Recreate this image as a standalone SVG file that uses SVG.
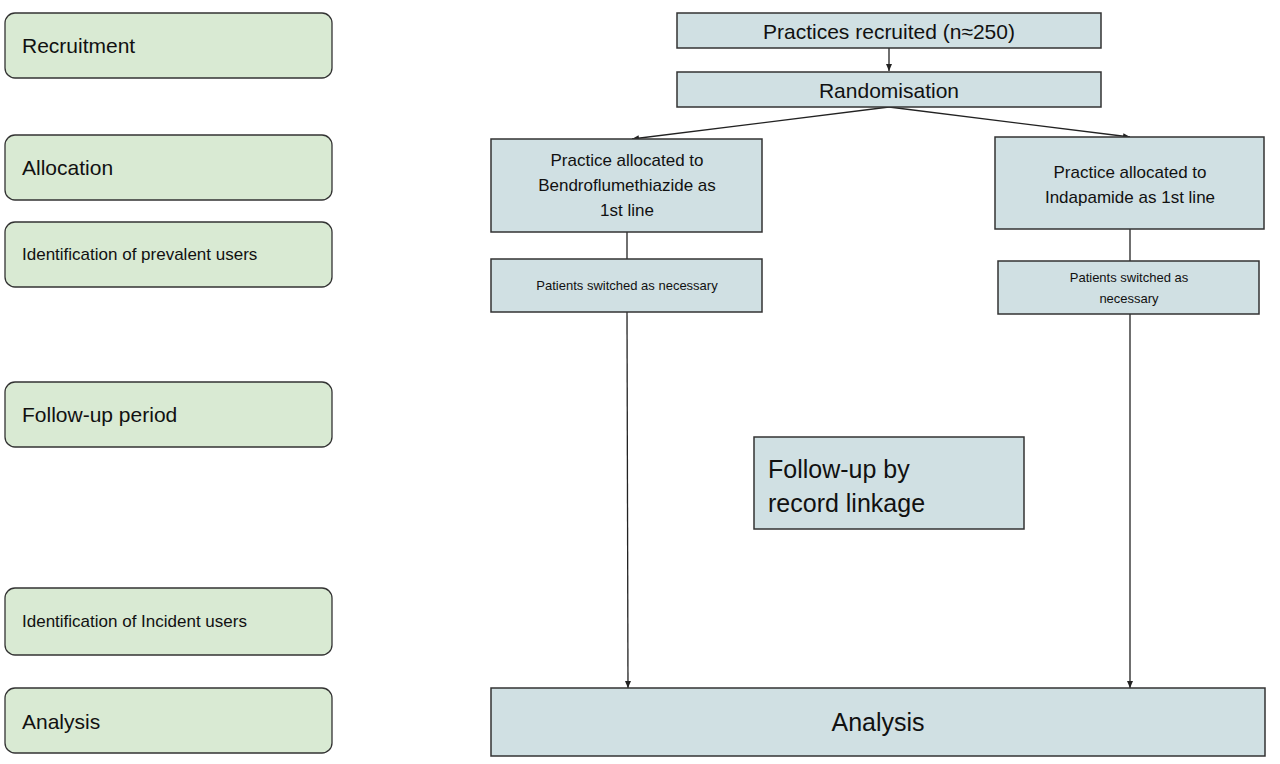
<svg xmlns="http://www.w3.org/2000/svg" width="1280" height="764" viewBox="0 0 1280 764">
<style>
.g{fill:#d9ead3;stroke:#333;stroke-width:1.3}
.b{fill:#d0e0e3;stroke:#333;stroke-width:1.5}
text{font-family:"Liberation Sans",Arial,sans-serif;fill:#111}
.c{stroke:#222;stroke-width:1.3;fill:none}
</style>
<defs><marker id="a" markerWidth="8" markerHeight="8" refX="7" refY="4" orient="auto" markerUnits="userSpaceOnUse"><path d="M0,1 L7,4 L0,7 z" fill="#222"/></marker></defs>
<rect width="1280" height="764" fill="#fff"/>
<g id="l1"><rect class="g" x="5" y="13" width="327" height="65" rx="10"/><text x="22" y="53" font-size="21">Recruitment</text></g>
<g id="l2"><rect class="g" x="5" y="135" width="327" height="65" rx="10"/><text x="22" y="175" font-size="21">Allocation</text></g>
<g id="l3"><rect class="g" x="5" y="222" width="327" height="65" rx="10"/><text x="22" y="260" font-size="17">Identification of prevalent users</text></g>
<g id="l4"><rect class="g" x="5" y="382" width="327" height="65" rx="10"/><text x="22" y="422" font-size="21">Follow-up period</text></g>
<g id="l5"><rect class="g" x="5" y="588" width="327" height="67" rx="10"/><text x="22" y="627" font-size="17">Identification of Incident users</text></g>
<g id="l6"><rect class="g" x="5" y="688" width="327" height="65" rx="10"/><text x="22" y="729" font-size="21">Analysis</text></g>
<g id="connectors">
<line class="c" x1="889" y1="48" x2="889" y2="71" marker-end="url(#a)"/>
<line class="c" x1="889" y1="107" x2="632" y2="139" marker-end="url(#a)"/>
<line class="c" x1="889" y1="107" x2="1130" y2="137" marker-end="url(#a)"/>
<line class="c" x1="627" y1="232" x2="627" y2="259"/>
<line class="c" x1="1130" y1="229" x2="1130" y2="261"/>
<line class="c" x1="627" y1="312" x2="628" y2="688" marker-end="url(#a)"/>
<line class="c" x1="1130" y1="314" x2="1130" y2="688" marker-end="url(#a)"/>
</g>
<g id="n1"><rect class="b" x="677" y="13" width="424" height="35"/><text x="889" y="39" font-size="21" text-anchor="middle">Practices recruited (n≈250)</text></g>
<g id="n2"><rect class="b" x="677" y="72" width="424" height="35"/><text x="889" y="98" font-size="21" text-anchor="middle">Randomisation</text></g>
<g id="n3"><rect class="b" x="491" y="139" width="271" height="93"/><text font-size="17" text-anchor="middle"><tspan x="627" y="166">Practice allocated to</tspan><tspan x="627" y="191">Bendroflumethiazide as</tspan><tspan x="627" y="216">1st line</tspan></text></g>
<g id="n4"><rect class="b" x="995" y="137" width="269" height="92"/><text font-size="17" text-anchor="middle"><tspan x="1130" y="178">Practice allocated to</tspan><tspan x="1130" y="203">Indapamide as 1st line</tspan></text></g>
<g id="n5"><rect class="b" x="491" y="259" width="271" height="53"/><text x="627" y="290" font-size="13" text-anchor="middle">Patients switched as necessary</text></g>
<g id="n6"><rect class="b" x="998" y="261" width="261" height="53"/><text font-size="13" text-anchor="middle"><tspan x="1129" y="282">Patients switched as</tspan><tspan x="1129" y="303">necessary</tspan></text></g>
<g id="n7"><rect class="b" x="754" y="437" width="270" height="92"/><text font-size="25"><tspan x="768" y="478">Follow-up by</tspan><tspan x="768" y="512">record linkage</tspan></text></g>
<g id="n8"><rect class="b" x="491" y="688" width="774" height="68"/><text x="878" y="731" font-size="25" text-anchor="middle">Analysis</text></g>
</svg>
